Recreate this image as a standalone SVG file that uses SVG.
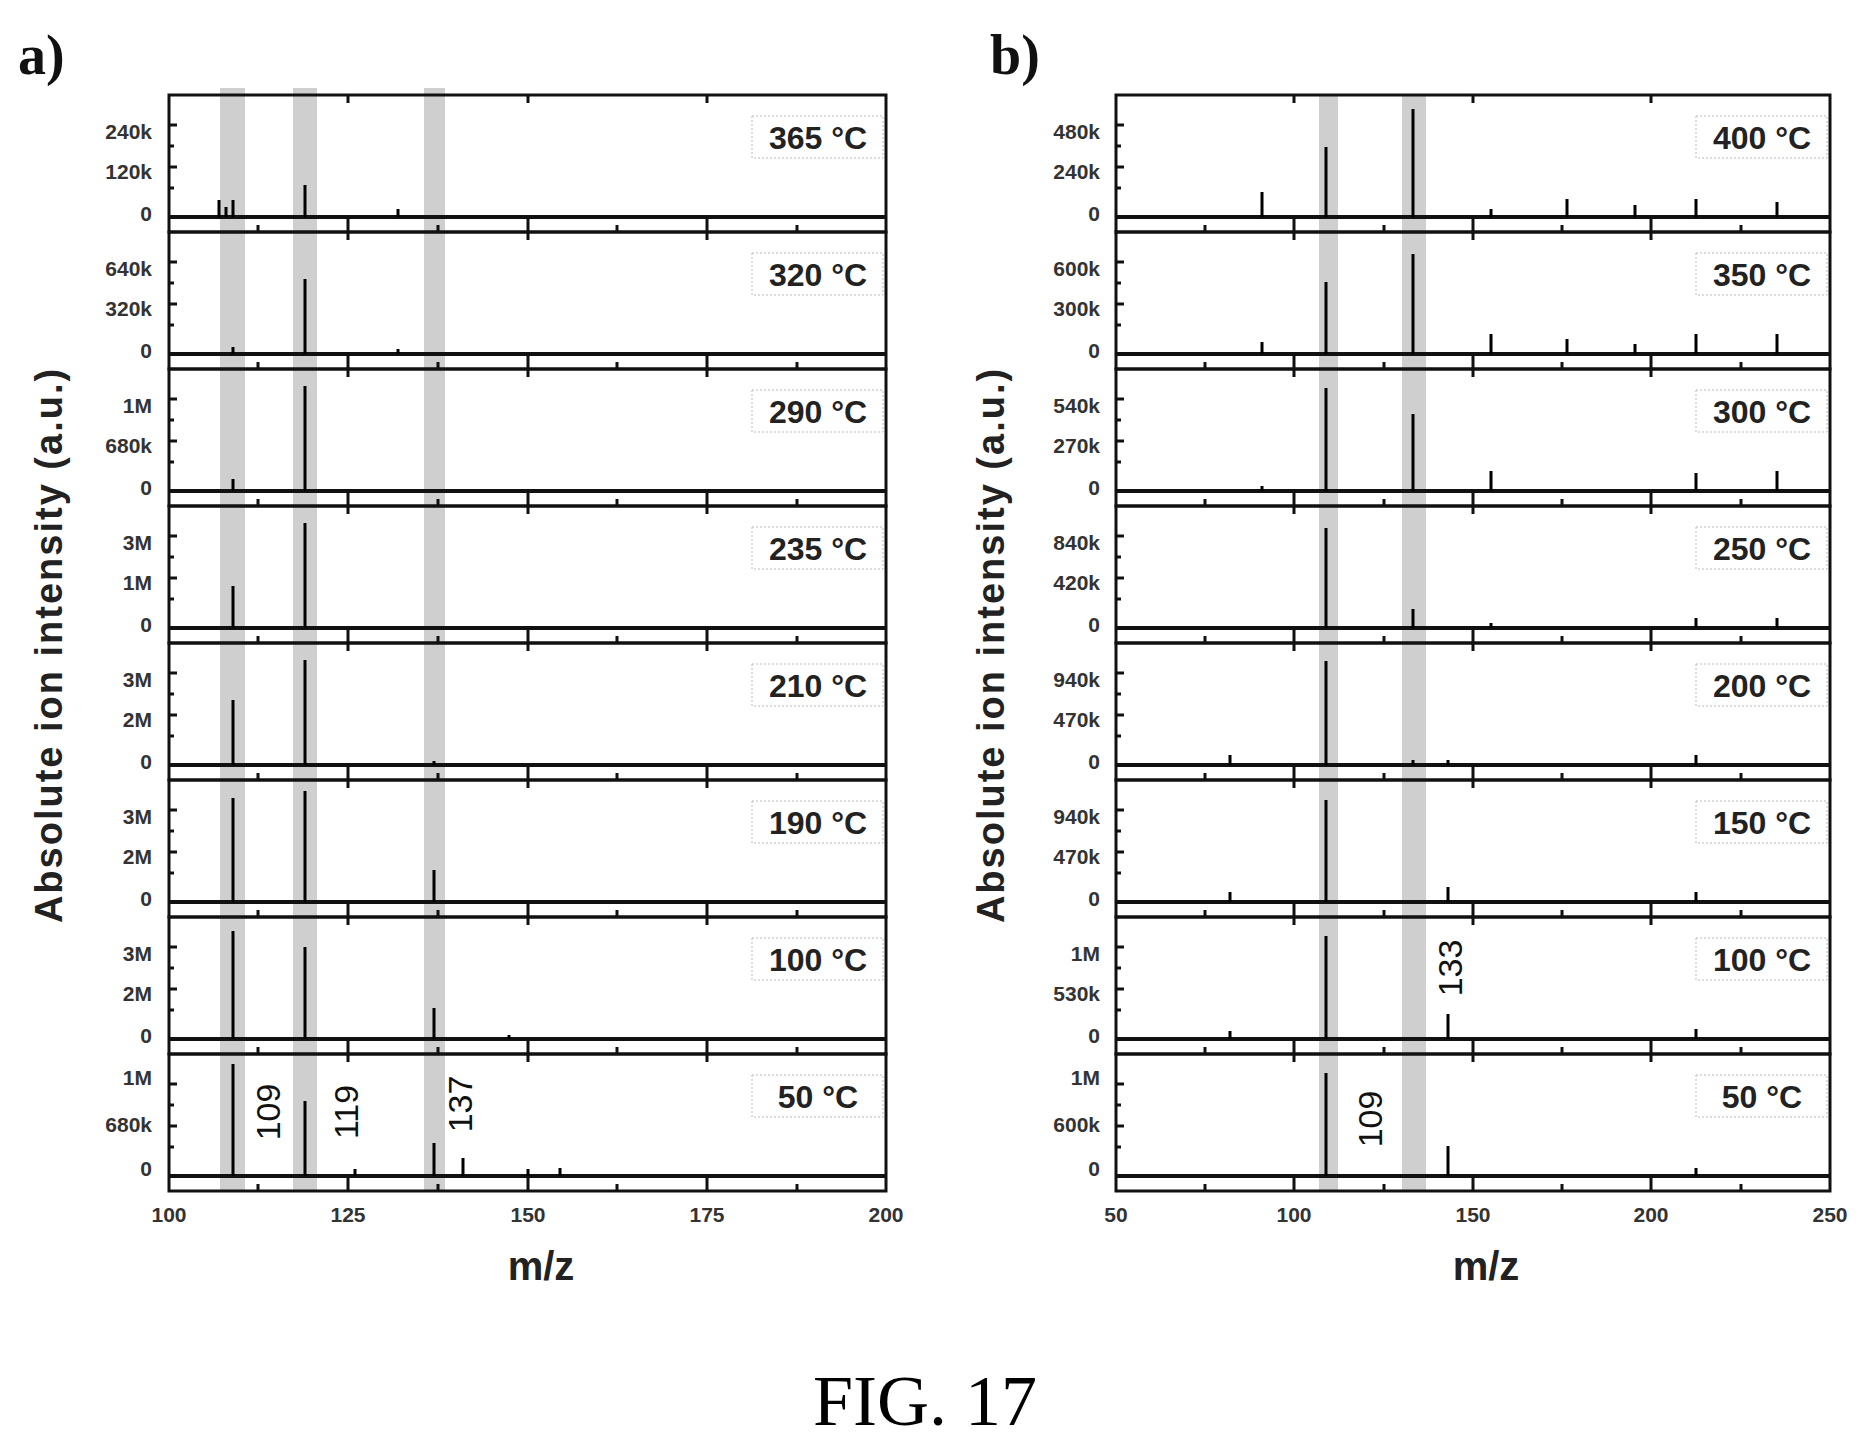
<svg xmlns="http://www.w3.org/2000/svg" width="1874" height="1449" viewBox="0 0 1874 1449">
<style>
.fr{fill:none;stroke:#111;stroke-width:3}
.bl{stroke:#111;stroke-width:4}
.tk{stroke:#111;stroke-width:3}
.pk{stroke:#000;stroke-width:3;fill:none}
.yl{font-family:"Liberation Sans",Arial,sans-serif;font-size:21px;font-weight:bold;fill:#333;text-anchor:end}
.xl{font-family:"Liberation Sans",Arial,sans-serif;font-size:21px;font-weight:bold;fill:#333;text-anchor:middle}
.tl{font-family:"Liberation Sans",Arial,sans-serif;font-size:32px;font-weight:bold;fill:#222;text-anchor:middle}
.tb{fill:#fff;stroke:#bbb;stroke-width:1;stroke-dasharray:2 2}
.ti{font-family:"Liberation Sans",Arial,sans-serif;font-size:40px;font-weight:bold;fill:#222;text-anchor:middle}
.yt{font-family:"Liberation Sans",Arial,sans-serif;font-size:38px;font-weight:bold;fill:#222;text-anchor:middle;letter-spacing:2px}
.an{font-family:"Liberation Sans",Arial,sans-serif;font-size:34px;fill:#111;text-anchor:middle}
.pl{font-family:"Liberation Serif","Times New Roman",serif;font-size:56px;font-weight:bold;fill:#111}
.band{fill:#bbb;opacity:0.7}
</style>
<defs>
<g id="fa">
<rect class="fr" x="169" y="0" width="717" height="137"/>
<line class="bl" x1="169" y1="122" x2="886" y2="122"/>
<path class="tk" d="M348 122V137M528 122V137M707 122V137M348 0V8M528 0V8M707 0V8M258 130V137M438 130V137M617 130V137M797 130V137M169 30H177M169 72H177M169 51H174M169 93H174"/>
<rect class="tb" x="752" y="21" width="131" height="42"/>
</g>
<g id="fb">
<rect class="fr" x="1116" y="0" width="714" height="137"/>
<line class="bl" x1="1116" y1="122" x2="1830" y2="122"/>
<path class="tk" d="M1294 122V137M1473 122V137M1651 122V137M1294 0V8M1473 0V8M1651 0V8M1205 130V137M1384 130V137M1562 130V137M1741 130V137M1116 30H1124M1116 72H1124M1116 51H1121M1116 93H1121"/>
<rect class="tb" x="1696" y="21" width="131" height="42"/>
</g>
</defs>
<text class="pl" x="18" y="74">a)</text>
<text class="pl" x="990" y="74">b)</text>
<g id="bands">
<rect class="band" x="220" y="88" width="25" height="1103"/>
<rect class="band" x="293" y="88" width="24" height="1103"/>
<rect class="band" x="424" y="88" width="21" height="1103"/>
<rect class="band" x="1319" y="95" width="19" height="1096"/>
<rect class="band" x="1402" y="95" width="24" height="1096"/>
</g>
<g id="panel-a">
<g id="a365" transform="translate(0,95)"><use href="#fa"/>
<path class="pk" d="M219 122v-17M233 122v-17M305 122v-32M398 122v-8M226 122v-10"/>
<text class="yl" x="152" y="44">240k</text><text class="yl" x="152" y="84">120k</text><text class="yl" x="152" y="126">0</text><text class="tl" x="818" y="54">365 °C</text></g>
<g id="a320" transform="translate(0,232)"><use href="#fa"/>
<path class="pk" d="M305 122v-75M233 122v-7M398 122v-5"/>
<text class="yl" x="152" y="44">640k</text><text class="yl" x="152" y="84">320k</text><text class="yl" x="152" y="126">0</text><text class="tl" x="818" y="54">320 °C</text></g>
<g id="a290" transform="translate(0,369)"><use href="#fa"/>
<path class="pk" d="M305 122v-105M233 122v-12"/>
<text class="yl" x="152" y="44">1M</text><text class="yl" x="152" y="84">680k</text><text class="yl" x="152" y="126">0</text><text class="tl" x="818" y="54">290 °C</text></g>
<g id="a235" transform="translate(0,506)"><use href="#fa"/>
<path class="pk" d="M305 122v-105M233 122v-42"/>
<text class="yl" x="152" y="44">3M</text><text class="yl" x="152" y="84">1M</text><text class="yl" x="152" y="126">0</text><text class="tl" x="818" y="54">235 °C</text></g>
<g id="a210" transform="translate(0,643)"><use href="#fa"/>
<path class="pk" d="M305 122v-105M233 122v-65M434 122v-4"/>
<text class="yl" x="152" y="44">3M</text><text class="yl" x="152" y="84">2M</text><text class="yl" x="152" y="126">0</text><text class="tl" x="818" y="54">210 °C</text></g>
<g id="a190" transform="translate(0,780)"><use href="#fa"/>
<path class="pk" d="M233 122v-104M305 122v-111M434 122v-32"/>
<text class="yl" x="152" y="44">3M</text><text class="yl" x="152" y="84">2M</text><text class="yl" x="152" y="126">0</text><text class="tl" x="818" y="54">190 °C</text></g>
<g id="a100" transform="translate(0,917)"><use href="#fa"/>
<path class="pk" d="M233 122v-108M305 122v-92M434 122v-31M509 122v-4"/>
<text class="yl" x="152" y="44">3M</text><text class="yl" x="152" y="84">2M</text><text class="yl" x="152" y="126">0</text><text class="tl" x="818" y="54">100 °C</text></g>
<g id="a50" transform="translate(0,1054)"><use href="#fa"/>
<path class="pk" d="M233 122v-112M305 122v-75M434 122v-33M463 122v-18M528 122v-7M560 122v-8M355 122v-7"/>
<text class="yl" x="152" y="31">1M</text><text class="yl" x="152" y="78">680k</text><text class="yl" x="152" y="122">0</text><text class="tl" x="818" y="54">50 °C</text>
<text class="an" transform="translate(280,58) rotate(-90)">109</text>
<text class="an" transform="translate(358,58) rotate(-90)">119</text>
<text class="an" transform="translate(472,50) rotate(-90)">137</text></g>
<text class="xl" x="169" y="1222">100</text><text class="xl" x="348" y="1222">125</text><text class="xl" x="528" y="1222">150</text><text class="xl" x="707" y="1222">175</text><text class="xl" x="886" y="1222">200</text>
<text class="ti" x="541" y="1280">m/z</text>
<text class="yt" transform="translate(62,645) rotate(-90)">Absolute ion intensity (a.u.)</text>
</g>
<g id="panel-b">
<g id="b400" transform="translate(0,95)"><use href="#fb"/>
<path class="pk" d="M1326 122v-70M1413 122v-108M1262 122v-25M1567 122v-18M1635 122v-12M1696 122v-18M1777 122v-15M1491 122v-8"/>
<text class="yl" x="1100" y="44">480k</text><text class="yl" x="1100" y="84">240k</text><text class="yl" x="1100" y="126">0</text><text class="tl" x="1762" y="54">400 °C</text></g>
<g id="b350" transform="translate(0,232)"><use href="#fb"/>
<path class="pk" d="M1326 122v-72M1413 122v-100M1262 122v-12M1491 122v-20M1567 122v-15M1635 122v-10M1696 122v-20M1777 122v-20"/>
<text class="yl" x="1100" y="44">600k</text><text class="yl" x="1100" y="84">300k</text><text class="yl" x="1100" y="126">0</text><text class="tl" x="1762" y="54">350 °C</text></g>
<g id="b300" transform="translate(0,369)"><use href="#fb"/>
<path class="pk" d="M1326 122v-103M1413 122v-77M1491 122v-20M1696 122v-18M1777 122v-20M1262 122v-5"/>
<text class="yl" x="1100" y="44">540k</text><text class="yl" x="1100" y="84">270k</text><text class="yl" x="1100" y="126">0</text><text class="tl" x="1762" y="54">300 °C</text></g>
<g id="b250" transform="translate(0,506)"><use href="#fb"/>
<path class="pk" d="M1326 122v-100M1413 122v-19M1696 122v-10M1777 122v-10M1491 122v-5"/>
<text class="yl" x="1100" y="44">840k</text><text class="yl" x="1100" y="84">420k</text><text class="yl" x="1100" y="126">0</text><text class="tl" x="1762" y="54">250 °C</text></g>
<g id="b200" transform="translate(0,643)"><use href="#fb"/>
<path class="pk" d="M1326 122v-104M1413 122v-5M1230 122v-10M1696 122v-10M1448 122v-5"/>
<text class="yl" x="1100" y="44">940k</text><text class="yl" x="1100" y="84">470k</text><text class="yl" x="1100" y="126">0</text><text class="tl" x="1762" y="54">200 °C</text></g>
<g id="b150" transform="translate(0,780)"><use href="#fb"/>
<path class="pk" d="M1326 122v-102M1448 122v-15M1230 122v-10M1696 122v-10"/>
<text class="yl" x="1100" y="44">940k</text><text class="yl" x="1100" y="84">470k</text><text class="yl" x="1100" y="126">0</text><text class="tl" x="1762" y="54">150 °C</text></g>
<g id="b100" transform="translate(0,917)"><use href="#fb"/>
<path class="pk" d="M1326 122v-103M1448 122v-25M1230 122v-8M1696 122v-10"/>
<text class="yl" x="1100" y="44">1M</text><text class="yl" x="1100" y="84">530k</text><text class="yl" x="1100" y="126">0</text><text class="tl" x="1762" y="54">100 °C</text>
<text class="an" transform="translate(1462,51) rotate(-90)">133</text></g>
<g id="b50" transform="translate(0,1054)"><use href="#fb"/>
<path class="pk" d="M1326 122v-103M1448 122v-30M1696 122v-8"/>
<text class="yl" x="1100" y="31">1M</text><text class="yl" x="1100" y="78">600k</text><text class="yl" x="1100" y="122">0</text><text class="tl" x="1762" y="54">50 °C</text>
<text class="an" transform="translate(1382,65) rotate(-90)">109</text></g>
<text class="xl" x="1116" y="1222">50</text><text class="xl" x="1294" y="1222">100</text><text class="xl" x="1473" y="1222">150</text><text class="xl" x="1651" y="1222">200</text><text class="xl" x="1830" y="1222">250</text>
<text class="ti" x="1486" y="1280">m/z</text>
<text class="yt" transform="translate(1004,645) rotate(-90)">Absolute ion intensity (a.u.)</text>
</g>
<text x="925" y="1425" font-family="Liberation Serif,'Times New Roman',serif" font-size="72" text-anchor="middle" fill="#000">FIG. 17</text>
</svg>
